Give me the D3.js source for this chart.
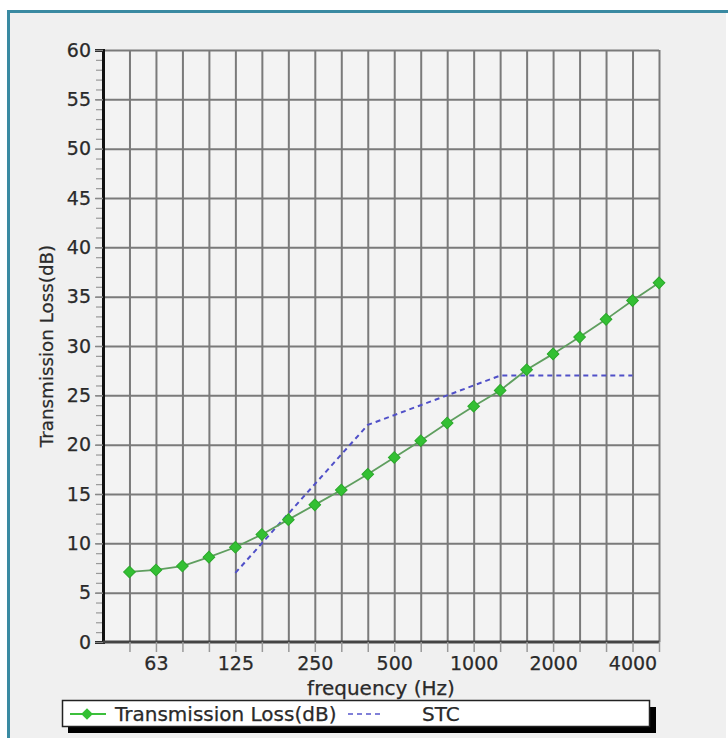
<!DOCTYPE html>
<html>
<head>
<meta charset="utf-8">
<script src="https://cdn.jsdelivr.net/npm/d3@7"></script>
<style>
  body { margin: 0; background: #fff; }
  svg text { font-family: "DejaVu Sans", Verdana, sans-serif; fill: #2a2a2a; stroke: #2a2a2a; stroke-width: 0.25; }
</style>
</head>
<body>
<svg width="728" height="738"></svg>
<script>
// 1/3 octave bands (categorical x)
var bands = ["50","63","80","100","125","160","200","250","315","400","500","630","800","1000","1250","1600","2000","2500","3150","4000","5000"];
var bandLabels = ["63","125","250","500","1000","2000","4000"];
// transmission loss per band
var tlValues = [7.1,7.3,7.7,8.6,9.6,10.9,12.4,13.9,15.4,17.0,18.7,20.4,22.2,23.9,25.5,27.6,29.2,30.9,32.7,34.6,36.4];
// STC reference contour
var stcBands = ["125","160","200","250","315","400","500","630","800","1000","1250","1600","2000","2500","3150","4000"];
var stcValues = [7,10,13,16,19,22,23,24,25,26,27,27,27,27,27,27];
var yTicks = [0,5,10,15,20,25,30,35,40,45,50,55,60];

var svg = d3.select("svg");

// panel background + teal frame
svg.append("rect").attr("x", 8).attr("y", 11).attr("width", 718).attr("height", 740)
  .attr("fill", "#f0f0f0");
svg.append("rect").attr("x", 8.5).attr("y", 11.5).attr("width", 760).attr("height", 760)
  .attr("fill", "none").attr("stroke", "#3a8aa2").attr("stroke-width", 3);

var pLeft = 103, pRight = 659, pTop = 50, pBottom = 642;

var x = d3.scalePoint().domain(bands).range([pLeft + (pRight - pLeft) / 21, pRight]);
var y = d3.scaleLinear().domain([0, 60]).range([pBottom, pTop]);

// plot area
svg.append("rect").attr("x", pLeft).attr("y", pTop).attr("width", pRight - pLeft).attr("height", pBottom - pTop)
  .attr("fill", "#f3f3f3");

// vertical grid
var vgrid = svg.append("g").attr("transform", "translate(0," + pBottom + ")")
  .call(d3.axisBottom(x).tickSize(-(pBottom - pTop)).tickFormat(""));
vgrid.select(".domain").remove();
vgrid.selectAll("line").attr("stroke", "#7a7a7a").attr("stroke-width", 2);

// horizontal grid
var hgrid = svg.append("g").attr("transform", "translate(" + pLeft + ",0)")
  .call(d3.axisLeft(y).tickValues(yTicks.slice(1)).tickSize(-(pRight - pLeft)).tickFormat(""));
hgrid.select(".domain").remove();
hgrid.selectAll("line").attr("stroke", "#7a7a7a").attr("stroke-width", 2);

// minor y ticks
var yMinor = svg.append("g").attr("transform", "translate(" + pLeft + ",0)")
  .call(d3.axisLeft(y).ticks(60).tickSize(7).tickFormat(""));
yMinor.select(".domain").remove();
yMinor.selectAll("line").attr("stroke", "#999").attr("stroke-width", 1.2);

// y axis with labels
var yAxis = svg.append("g").attr("transform", "translate(" + pLeft + ",0)")
  .call(d3.axisLeft(y).tickValues(yTicks).tickSize(8).tickPadding(4));
yAxis.select(".domain").attr("stroke", "#111").attr("stroke-width", 3);
yAxis.selectAll("line").attr("stroke", "#888").attr("stroke-width", 1.5);
yAxis.selectAll("text").attr("font-size", 19);

// x axis
var xAxis = svg.append("g").attr("transform", "translate(0," + pBottom + ")")
  .call(d3.axisBottom(x).tickSize(10).tickPadding(5)
    .tickFormat(function(d) { return bandLabels.indexOf(d) >= 0 ? d : ""; }));
xAxis.select(".domain").attr("d", "M" + pLeft + ",0H" + pRight).attr("stroke", "#444").attr("stroke-width", 3);
xAxis.selectAll("line").attr("stroke", "#999").attr("stroke-width", 1.5);
xAxis.selectAll("text").attr("font-size", 19);

// axis titles
svg.append("text").attr("transform", "translate(53," + ((pTop + pBottom) / 2) + ") rotate(-90)")
  .attr("text-anchor", "middle").attr("font-size", 18.3).text("Transmission Loss(dB)");
svg.append("text").attr("x", (pLeft + pRight) / 2).attr("y", 695)
  .attr("text-anchor", "middle").attr("font-size", 20).text("frequency (Hz)");

// STC dashed line
var stcLine = d3.line().x(function(d, i) { return x(stcBands[i]); }).y(function(d) { return y(d); });
svg.append("path").datum(stcValues).attr("d", stcLine)
  .attr("fill", "none").attr("stroke", "#5050c8").attr("stroke-width", 2).attr("stroke-dasharray", "5,4");

// transmission loss line + diamond markers
var tlLine = d3.line().x(function(d, i) { return x(bands[i]); }).y(function(d) { return y(d); });
svg.append("path").datum(tlValues).attr("d", tlLine)
  .attr("fill", "none").attr("stroke", "#5f9e5f").attr("stroke-width", 1.8);
var diamond = d3.symbol().type(d3.symbolSquare).size(68);
svg.append("g").selectAll("path").data(tlValues).enter().append("path")
  .attr("d", diamond)
  .attr("transform", function(d, i) { return "translate(" + x(bands[i]) + "," + y(d) + ") rotate(45)"; })
  .attr("fill", "#33c033").attr("stroke", "#2aa82a").attr("stroke-width", 1);

// legend
var lg = svg.append("g");
lg.append("rect").attr("x", 68).attr("y", 707).attr("width", 588).attr("height", 26).attr("fill", "#000");
lg.append("rect").attr("x", 62.5).attr("y", 700.5).attr("width", 587).attr("height", 26)
  .attr("fill", "#fff").attr("stroke", "#222").attr("stroke-width", 1.5);
lg.append("line").attr("x1", 70).attr("x2", 106).attr("y1", 714).attr("y2", 714)
  .attr("stroke", "#3cbf3c").attr("stroke-width", 2);
lg.append("path").attr("d", diamond).attr("transform", "translate(87,714) rotate(45)")
  .attr("fill", "#33c033");
lg.append("text").attr("x", 115).attr("y", 721).attr("font-size", 20).text("Transmission Loss(dB)");
lg.append("line").attr("x1", 348).attr("x2", 384).attr("y1", 714).attr("y2", 714)
  .attr("stroke", "#8080d8").attr("stroke-width", 2).attr("stroke-dasharray", "5,4");
lg.append("text").attr("x", 422).attr("y", 721).attr("font-size", 20).text("STC");
</script>
</body>
</html>
